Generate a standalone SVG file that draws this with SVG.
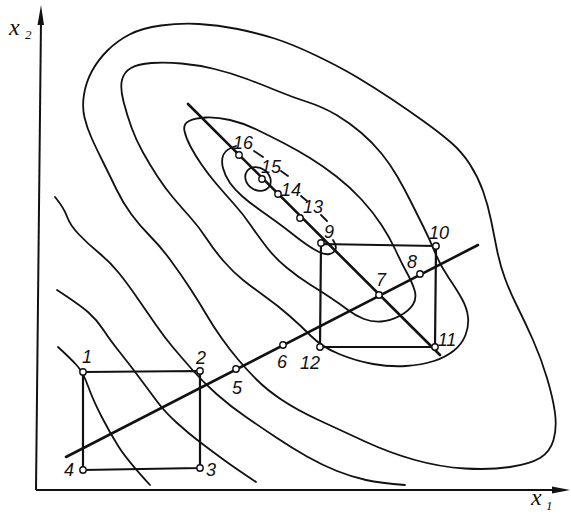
<svg xmlns="http://www.w3.org/2000/svg" width="571" height="515" viewBox="0 0 571 515">
<style>
.ct{fill:none;stroke:#111;stroke-width:1.8;stroke-linecap:round;stroke-linejoin:round}
.ln{fill:none;stroke:#111;stroke-width:2.6;stroke-linecap:round}
.rc{fill:none;stroke:#111;stroke-width:2.2;stroke-linejoin:round}
.ax{fill:none;stroke:#111;stroke-width:2}
.pt{fill:#fff;stroke:#111;stroke-width:1.4}
.lb{font-family:"Liberation Sans",Arial,sans-serif;font-style:italic;font-size:18px;fill:#111;text-anchor:middle}
.axl{font-family:"Liberation Serif","Times New Roman",serif;font-style:italic;fill:#111}
</style>
<rect width="571" height="515" fill="#fff"/>
<g id="axes">
<path class="ax" d="M36,490 L41,20"/>
<polygon points="41,5 37.5,25 44,25" fill="#111"/>
<path class="ax" d="M36,490 L556,490"/>
<polygon points="570,490 552,486.5 552,493.5" fill="#111"/>
<text class="axl" x="9" y="35" font-size="24">x</text>
<text class="axl" x="25" y="39" font-size="13">2</text>
<text class="axl" x="531" y="505" font-size="24">x</text>
<text class="axl" x="546" y="510" font-size="13">1</text>
</g>
<g id="contours">
<path class="ct" d="M58,347 Q70,358 76.5,365 Q83,372 88,386 Q93,400 101.5,416.5 Q110,433 118.5,446.5 Q127,460 150,485"/>
<path class="ct" d="M57,290 Q80,305 88.5,312.5 Q97,320 103.5,330 Q110,340 120,352.5 Q130,365 140,378.5 Q150,392 157.5,402 Q165,412 176.5,422.5 Q188,433 200.5,442.5 Q213,452 224,460 Q235,468 256,482"/>
<path class="ct" d="M55,197 Q64,208 67,216.5 Q70,225 78.5,234 Q87,243 98.5,252.5 Q110,262 118.5,272.5 Q127,283 137,297.5 Q147,312 156,325 Q165,338 173.5,348 Q182,358 192.5,370 Q203,382 216.5,394 Q230,406 246,417 Q262,428 277,438 Q292,448 307,456.5 Q322,465 337,471 Q352,477 366,480 Q380,483 405,485"/>
<path class="ct" d="M84.5,117.5 Q82,107 84,94.5 Q86,82 92,71 Q98,60 107.5,50.5 Q117,41 129.5,34.5 Q142,28 161,25.5 Q180,23 199,24 Q218,25 237.5,29 Q257,33 274.5,38.5 Q292,44 316,55.5 Q340,67 357.5,77.5 Q375,88 391.5,99 Q408,110 424,121.5 Q440,133 451,142.5 Q462,152 470,164.5 Q478,177 483,191 Q488,205 491,220 Q494,235 497,250 Q500,265 505,278.5 Q510,292 517.5,307 Q525,322 533,340 Q541,358 547,378 Q553,398 555,413 Q557,428 553.5,440 Q550,452 540,458 Q530,464 510,467 Q490,470 465,468.5 Q440,467 415,460 Q390,453 365,441.5 Q340,430 318.5,420 Q297,410 282,400 Q267,390 257,380 Q247,370 238.5,360 Q230,350 221.5,338 Q213,326 206,314 Q199,302 189.5,287.5 Q180,273 170,259.5 Q160,246 150,236 Q140,226 131.5,214.5 Q123,203 116.5,189.5 Q110,176 103.5,163 Q97,150 92,139 Q87,128 84.5,117.5 Z"/>
<path class="ct" d="M123.5,101.5 Q120,88 122,80 Q124,72 131,68 Q138,64 151.5,63 Q165,62 181.5,63.5 Q198,65 214.5,69 Q231,73 247,79 Q263,85 277.5,91 Q292,97 307.5,102 Q323,107 336.5,115 Q350,123 361.5,133 Q373,143 381.5,153.5 Q390,164 397,176 Q404,188 410.5,201 Q417,214 423.5,227 Q430,240 435,252.5 Q440,265 448.5,277.5 Q457,290 462,299 Q467,308 468,317 Q469,326 465.5,335 Q462,344 454,350.5 Q446,357 434,361 Q422,365 406,366 Q390,367 373,364 Q356,361 339,354 Q322,347 311,336 Q300,325 288.5,315 Q277,305 265,296.5 Q253,288 243,280 Q233,272 223.5,261 Q214,250 206.5,238.5 Q199,227 190,217 Q181,207 173,197.5 Q165,188 157.5,176.5 Q150,165 143,152.5 Q136,140 131.5,127.5 Q127,115 123.5,101.5 Z"/>
<path class="ct" d="M184.5,131 Q183,124 189,121 Q195,118 206,117.5 Q217,117 230,120 Q243,123 256.5,129.5 Q270,136 283.5,143 Q297,150 310,158 Q323,166 336.5,176.5 Q350,187 361.5,199.5 Q373,212 381.5,225 Q390,238 395.5,250 Q401,262 406.5,272 Q412,282 414.5,290 Q417,298 413,304.5 Q409,311 399.5,316 Q390,321 381,321.5 Q372,322 364,319 Q356,316 348,310 Q340,304 331,298 Q322,292 310,284.5 Q298,277 286.5,267.5 Q275,258 266.5,247 Q258,236 250.5,225 Q243,214 234,204 Q225,194 216.5,184 Q208,174 201.5,164.5 Q195,155 190.5,146.5 Q186,138 184.5,131 Z"/>
<path class="ct" d="M236,146 Q226,149 223.5,154.5 Q221,160 223,168 Q225,176 230,183 Q235,190 242.5,196.5 Q250,203 258.5,209 Q267,215 276,221.5 Q285,228 292.5,234 Q300,240 306.5,244.5 Q313,249 319,252 Q325,255 329.5,254 Q334,253 335.5,249.5 Q337,246 333,240"/>
<path class="ct" d="M254,151 L263,157 M281,171 L288,176 M301,196 L307,201 M321,215 L327,221"/>
<ellipse class="ct" cx="258" cy="179" rx="13.5" ry="11" transform="rotate(35 258 179)"/>
</g>
<g id="connectors">
<path class="ln" d="M188,104 L440,355"/>
<path class="ln" d="M66,457 L478,245"/>
<path class="rc" d="M83,372 L200,371 L200,468 L83,470 Z"/>
<path class="rc" d="M321,244 L436,246 L435,347 L320,347 Z"/>
</g>
<g id="p1"><circle class="pt" cx="83" cy="372" r="3.2"/><text class="lb" x="87" y="363">1</text></g>
<g id="p2"><circle class="pt" cx="200" cy="371" r="3.2"/><text class="lb" x="201" y="364">2</text></g>
<g id="p3"><circle class="pt" cx="200" cy="468" r="3.2"/><text class="lb" x="211" y="476">3</text></g>
<g id="p4"><circle class="pt" cx="83" cy="470" r="3.2"/><text class="lb" x="69" y="476">4</text></g>
<g id="p5"><circle class="pt" cx="236" cy="369" r="3.2"/><text class="lb" x="237" y="394">5</text></g>
<g id="p6"><circle class="pt" cx="283" cy="345" r="3.2"/><text class="lb" x="282" y="368">6</text></g>
<g id="p7"><circle class="pt" cx="379" cy="295" r="3.2"/><text class="lb" x="381" y="286">7</text></g>
<g id="p8"><circle class="pt" cx="420" cy="274" r="3.2"/><text class="lb" x="412" y="268">8</text></g>
<g id="p9"><circle class="pt" cx="321" cy="243" r="3.2"/><text class="lb" x="329" y="238">9</text></g>
<g id="p10"><circle class="pt" cx="436" cy="246" r="3.2"/><text class="lb" x="439" y="239">10</text></g>
<g id="p11"><circle class="pt" cx="435" cy="347" r="3.2"/><text class="lb" x="447" y="346">11</text></g>
<g id="p12"><circle class="pt" cx="320" cy="347" r="3.2"/><text class="lb" x="310" y="369">12</text></g>
<g id="p13"><circle class="pt" cx="300" cy="218" r="3.2"/><text class="lb" x="313" y="213">13</text></g>
<g id="p14"><circle class="pt" cx="278" cy="194" r="3.2"/><text class="lb" x="291" y="196">14</text></g>
<g id="p15"><circle class="pt" cx="262" cy="179" r="3.2"/><text class="lb" x="271" y="173">15</text></g>
<g id="p16"><circle class="pt" cx="239" cy="155" r="3.2"/><text class="lb" x="243" y="149">16</text></g>
</svg>
